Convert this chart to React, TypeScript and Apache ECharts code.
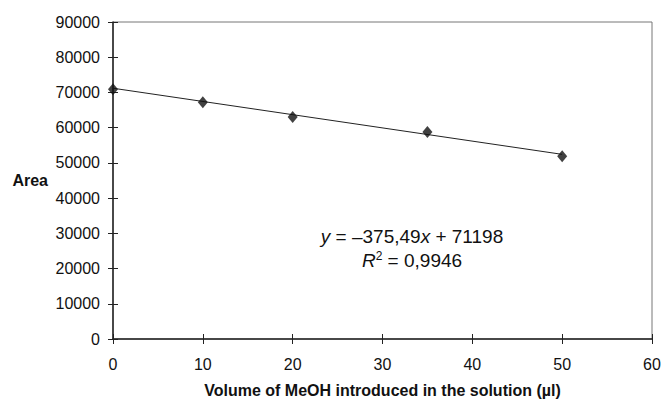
import React, { useEffect, useRef } from "react";
import * as echarts from "echarts";

const volumes = [0, 10, 20, 35, 50];
const areas = [70900, 67200, 63000, 58800, 51900];
const trendX = [0, 50];
const trendY = [71198, 52424];
const xTicks = { min: 0, max: 60, interval: 10 };
const yTicks = { min: 0, max: 90000, interval: 10000 };
const xTitle = "Volume of MeOH introduced in the solution (µl)";
const yTitle = "Area";
const eqLine1 = "{i|y} = –375,49{i|x} + 71198";
const eqLine2 = "{i|R}{s|2} = 0,9946";

const FONT = "'Liberation Sans', Arial, Helvetica, sans-serif";

export default function App() {
  const ref = useRef<HTMLDivElement>(null);
  useEffect(() => {
    if (!ref.current) return;
    const chart = echarts.init(ref.current, null, { renderer: "svg" });
    const axisLine = { show: true, lineStyle: { color: "#222", width: 1.5 } };
    const plain = (v: number) => String(v);
    chart.setOption({
      animation: false,
      backgroundColor: "#fff",
      textStyle: { fontFamily: FONT },
      grid: {
        left: 113,
        right: 10,
        top: 22,
        bottom: 60,
        show: true,
        borderColor: "#777",
        borderWidth: 1,
        backgroundColor: "transparent",
        containLabel: false,
        outerBoundsMode: "none",
      },
      xAxis: [
        {
          type: "value",
          ...xTicks,
          axisLine,
          axisTick: { show: true, length: 5, lineStyle: { color: "#222", width: 1 } },
          axisLabel: { fontSize: 16, color: "#111", margin: 17, fontFamily: FONT, formatter: plain },
          splitLine: { show: false },
          name: xTitle,
          nameLocation: "middle",
          nameGap: 43,
          nameTextStyle: { fontSize: 16, fontWeight: "bold", color: "#111", fontFamily: FONT },
        },
        {
          type: "value",
          ...xTicks,
          position: "bottom",
          axisLine: { show: false },
          axisTick: { show: true, inside: true, length: 5, lineStyle: { color: "#222", width: 1 } },
          axisLabel: { show: false },
          splitLine: { show: false },
        },
      ],
      yAxis: [
        {
          type: "value",
          ...yTicks,
          axisLine,
          axisTick: { show: true, length: 5, lineStyle: { color: "#222", width: 1 } },
          axisLabel: { fontSize: 16, color: "#111", margin: 13, fontFamily: FONT, formatter: plain },
          splitLine: { show: false },
          name: yTitle,
          nameLocation: "middle",
          nameRotate: 0,
          nameGap: 65,
          nameTextStyle: { fontSize: 16, fontWeight: "bold", color: "#111", fontFamily: FONT },
        },
        {
          type: "value",
          ...yTicks,
          position: "left",
          axisLine: { show: false },
          axisTick: { show: true, inside: true, length: 5, lineStyle: { color: "#222", width: 1 } },
          axisLabel: { show: false },
          splitLine: { show: false },
        },
      ],
      series: [
        {
          type: "line",
          data: trendX.map((x, i) => [x, trendY[i]]),
          showSymbol: false,
          symbol: "none",
          lineStyle: { color: "#222", width: 1 },
          z: 2,
        },
        {
          type: "scatter",
          data: volumes.map((x, i) => [x, areas[i]]),
          symbol: "diamond",
          symbolSize: [10, 12],
          itemStyle: { color: "#111" },
          z: 3,
        },
      ],
      graphic: [
        {
          type: "text",
          x: 412,
          y: 236,
          style: {
            text: eqLine1,
            align: "center",
            verticalAlign: "middle",
            fontSize: 19,
            fontFamily: FONT,
            fill: "#111",
            rich: {
              i: { fontStyle: "italic", fontSize: 19, fontFamily: FONT, fill: "#111" },
            },
          },
        },
        {
          type: "text",
          x: 412,
          y: 260,
          style: {
            text: eqLine2,
            align: "center",
            verticalAlign: "middle",
            fontSize: 19,
            fontFamily: FONT,
            fill: "#111",
            rich: {
              i: { fontStyle: "italic", fontSize: 19, fontFamily: FONT, fill: "#111" },
              s: { fontSize: 12, fontFamily: FONT, fill: "#111", verticalAlign: "top", padding: [0, 0, 9, 0] },
            },
          },
        },
      ],
    });
    return () => chart.dispose();
  }, []);
  return (
    <div
      ref={ref}
      style={{ position: "fixed", left: 0, top: 0, width: 662, height: 399 }}
    />
  );
}
